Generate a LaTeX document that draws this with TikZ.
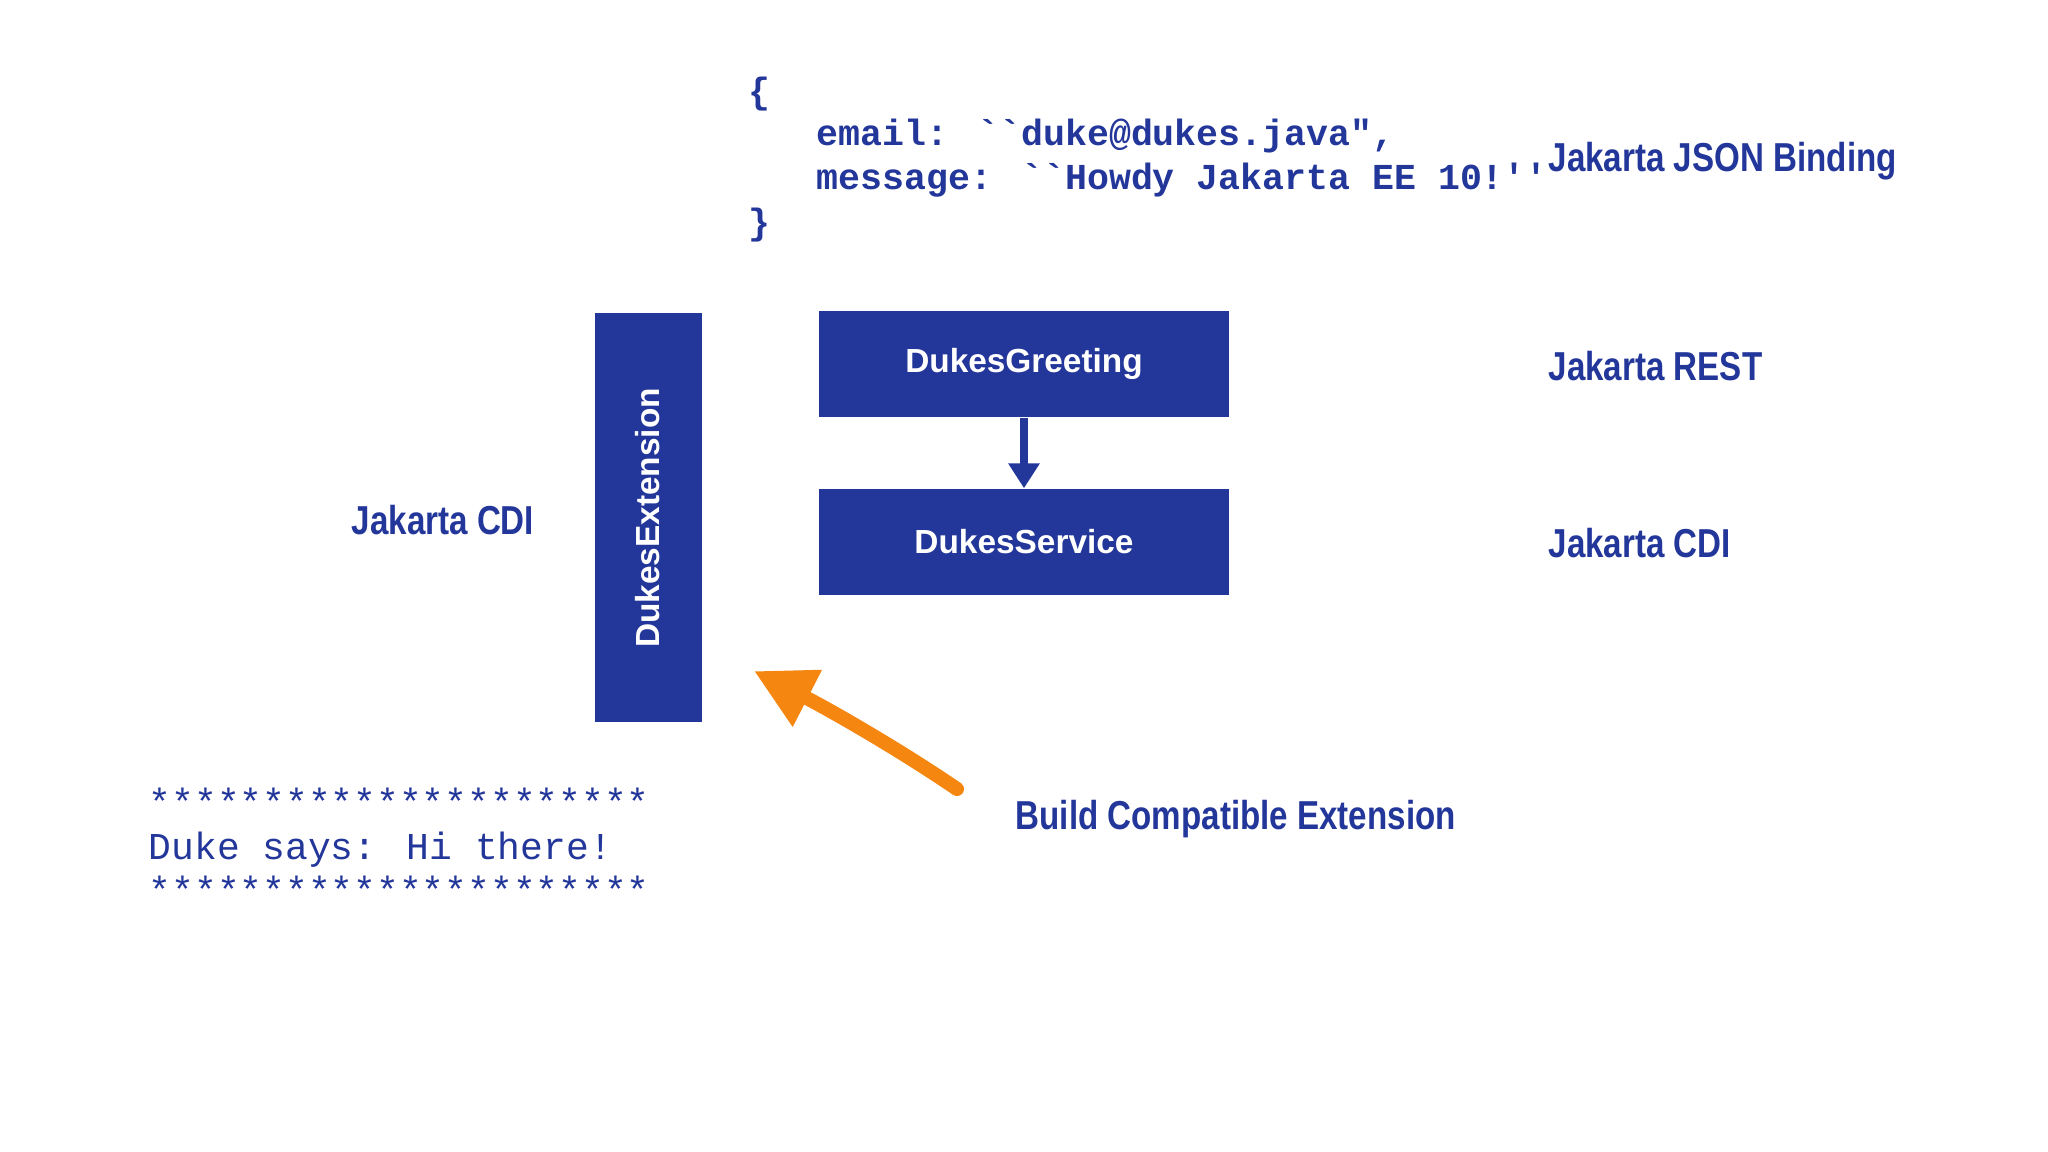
\documentclass[tikz,border=0pt]{standalone}
\usepackage{fontspec}
\setmainfont{Liberation Sans}
\newfontfamily\codefont{Liberation Mono}
\usetikzlibrary{arrows.meta}
\definecolor{dukeblue}{HTML}{23369A}
\definecolor{dukeorange}{HTML}{F5860F}
\newcommand{\narrowtext}[1]{\scalebox{0.82}[1]{#1}}
\tikzset{
    dukebox/.style = {fill = dukeblue, draw = none, text = white, font = \bfseries\fontsize{9.5}{11}\selectfont},
    jlabel/.style = {text = dukeblue, font = \bfseries\fontsize{11.5}{13}\selectfont, inner sep = 0},
    code/.style = {text = dukeblue, font = \codefont\bfseries\fontsize{10.4}{12}\selectfont, anchor = west, inner sep = 0},
    console/.style = {text = dukeblue, font = \codefont\fontsize{10.8}{12}\selectfont, anchor = west, inner sep = 0}
}
\begin{document}
\begin{tikzpicture}
    \useasboundingbox (0, 0) rectangle (20.48, -11.52);

    % json payload
    \node [code] (open) at (7.48, -0.94) {\{};
    \node [code] (email) at (8.16, -1.36) {email: ``duke@dukes.java",};
    \node [code] (msg) at (8.16, -1.80) {message: ``Howdy Jakarta EE 10!''};
    \node [code] (close) at (7.48, -2.25) {\}};

    % boxes
    \node [dukebox, minimum width = 4.10cm, minimum height = 1.06cm] (greeting) at (10.24, -3.64) {DukesGreeting};
    \node [dukebox, minimum width = 4.10cm, minimum height = 1.06cm] (service) at (10.24, -5.42) {DukesService};
    \node [dukebox, minimum width = 4.09cm, minimum height = 1.07cm, rotate = 90] (extension) at (6.48, -5.18) {DukesExtension};

    \draw [dukeblue, line width = 2.5pt, -{Triangle[length = 2.5mm, width = 3mm]}]
        (greeting) -- (service)
    ;

    % labels
    \node [jlabel, anchor = west] (json) at (15.48, -1.61) {\narrowtext{Jakarta JSON Binding}};
    \node [jlabel, anchor = west] (rest) at (15.48, -3.66) {\narrowtext{Jakarta REST}};
    \node [jlabel, anchor = west] (cdiright) at (15.48, -5.43) {\narrowtext{Jakarta CDI}};
    \node [jlabel] (cdileft) at (4.43, -5.20) {\narrowtext{Jakarta CDI}};
    \node [jlabel, anchor = west] (bce) at (10.15, -8.19) {\narrowtext{Build Compatible Extension}};

    % orange arrow
    \coordinate (tail) at (9.57, -7.89);
    \coordinate (head) at (7.54, -6.71);
    \draw [dukeorange, line width = 4pt, line cap = round, -{Triangle[length = 6mm, width = 6mm]}]
        (tail) .. controls (9.0, -7.5) and (8.3, -7.1) .. (head)
    ;

    % console output
    \node [console] (stars1) at (1.48, -8.02) {**********************};
    \node [console] (duke) at (1.48, -8.50) {Duke says: Hi there!};
    \node [console] (stars2) at (1.48, -8.90) {**********************};
\end{tikzpicture}
\end{document}
